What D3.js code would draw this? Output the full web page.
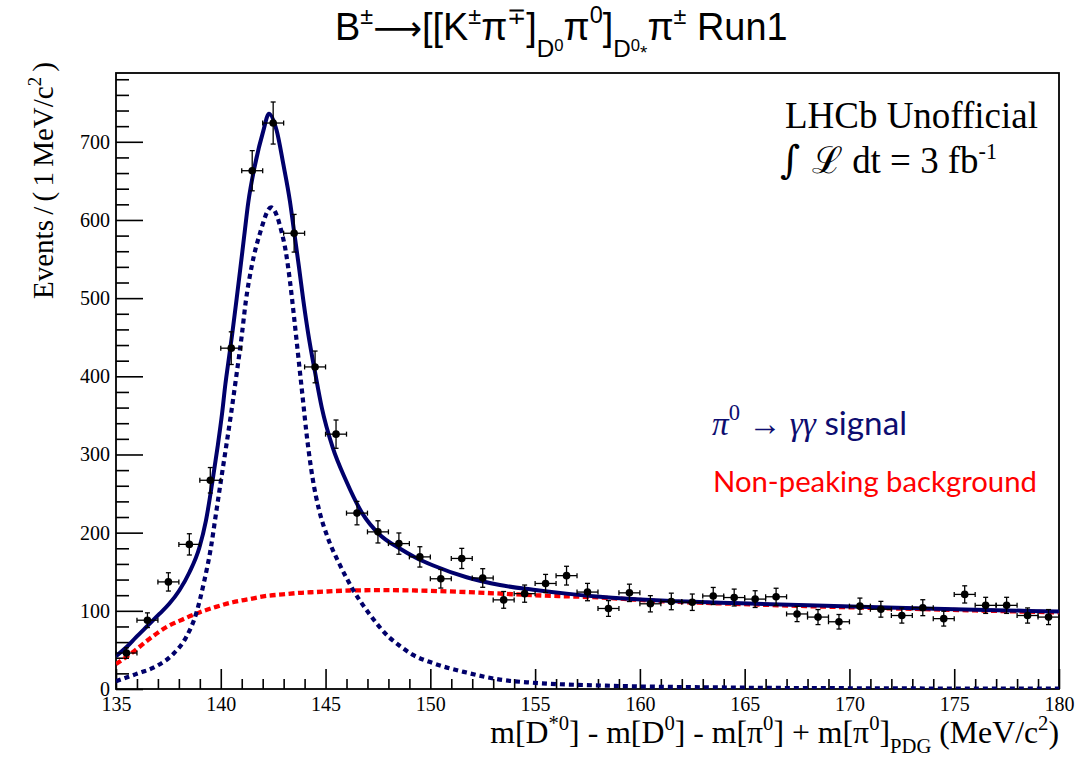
<!DOCTYPE html>
<html><head><meta charset="utf-8">
<script src="https://cdn.jsdelivr.net/npm/d3@7/dist/d3.min.js"></script>
<style>body{margin:0;background:#fff} svg{display:block}</style>
</head><body>
<svg id="c" width="1086" height="758"></svg>
<script>
// ---------- data ----------
const binCenters = [135.5,136.5,137.5,138.5,139.5,140.5,141.5,142.5,143.5,144.5,145.5,146.5,147.5,148.5,149.5,150.5,151.5,152.5,153.5,154.5,155.5,156.5,157.5,158.5,159.5,160.5,161.5,162.5,163.5,164.5,165.5,166.5,167.5,168.5,169.5,170.5,171.5,172.5,173.5,174.5,175.5,176.5,177.5,178.5,179.5];
const counts = [46,88,137,185,267,436,663,724,583,412,326,225,201,186,169,141,167,142,114,122,135,145,124,103,123,109,112,111,119,117,115,118,96,92,86,106,102,94,104,90,121,107,107,94,92];
const errors = [6.8,9.4,11.7,13.6,16.3,20.9,25.7,26.9,24.1,20.3,18.1,15.0,14.2,13.6,13.0,11.9,12.9,11.9,10.7,11.0,11.6,12.0,11.1,10.1,11.1,10.4,10.6,10.5,10.9,10.8,10.7,10.9,9.8,9.6,9.3,10.3,10.1,9.7,10.2,9.5,11.0,10.3,10.3,9.7,9.6];
const binHalfWidth = 0.5;

// total fit (solid), signal (dashed navy), background (dashed red): [x, y]
const fitCurve = [[135.0,42],[135.48,53],[135.95,66],[136.51,81],[137.07,96],[137.54,109],[138.02,126],[138.5,149],[138.98,181],[139.29,215],[139.61,267],[139.85,310],[140.06,352],[140.22,390],[140.33,412],[140.55,455],[140.76,500],[140.92,535],[141.12,580],[141.31,622],[141.63,670],[142.03,714],[142.3,736],[142.67,714],[142.98,672],[143.3,624],[143.51,583],[143.73,540],[143.94,497],[144.17,455],[144.5,405],[144.82,360],[145.34,309],[145.97,267],[146.77,224],[147.56,198],[148.52,180],[149.31,168],[150.14,158],[151.73,143],[153.32,133],[154.91,127],[156.5,122],[158.09,118],[161.27,113],[164.45,110],[168.0,107],[172.25,104],[176.0,101.5],[180.0,99]];
const sigCurve = [[135.0,10],[135.95,19],[136.91,29],[137.7,44],[138.34,66],[138.82,96],[139.21,138],[139.53,181],[139.77,224],[140.01,267],[140.25,309],[140.49,352],[140.73,398],[141.0,452],[141.2,497],[141.47,540],[141.87,583],[142.4,616],[142.9,585],[143.1,560],[143.3,522],[143.5,475],[143.7,425],[143.9,375],[144.1,325],[144.38,270],[144.7,228],[145.1,194],[145.66,160],[146.29,128],[147.09,96],[148.04,66],[148.55,55],[149.15,44],[150.14,33],[151.73,21],[153.32,12],[154.9,8],[158.1,4.5],[164.5,1.8],[172,0.8],[180,0.4]];
const bkgCurve = [[135,32],[135.8,47],[136.59,64],[137.39,79],[138.18,89],[138.98,98],[139.77,105],[140.57,111],[141.36,115],[142.16,119],[142.95,121],[143.75,123],[144.54,124],[146.13,126],[147.72,126.5],[149.3,126],[151.73,124],[154.91,120],[158.09,117],[161.27,112],[164.45,109],[168,106],[172.25,103],[176,100.5],[180,98]];

const xDomain = [135, 180];
const yDomain = [0, 788];
const xMajorTicks = [135,140,145,150,155,160,165,170,175,180];
const yMajorTicks = [0,100,200,300,400,500,600,700];
const xMinorTicks = d3.range(136, 180, 1).filter(v => v % 5 !== 0);
const yMinorTicks = d3.range(20, 788, 20).filter(v => v % 100 !== 0);

// ---------- layout ----------
const svg = d3.select('#c');
const M = {l:116, r:1059, t:73, b:689};
const x = d3.scaleLinear().domain(xDomain).range([M.l, M.r]);
const y = d3.scaleLinear().domain(yDomain).range([M.b, M.t]);
const NAVY = '#00006b', RED = '#ff0000';
const SERIF = "'Liberation Serif','DejaVu Serif',serif";
const SANS = "'Liberation Sans',Arial,sans-serif";

svg.append('defs').append('clipPath').attr('id','clip')
  .append('rect').attr('x',M.l).attr('y',M.t).attr('width',M.r-M.l).attr('height',M.b-M.t);

// axes
function styleAxis(g){ g.select('.domain').remove(); g.selectAll('line').attr('stroke','#000').attr('stroke-width',1.6); g.attr('font-family',SERIF).attr('font-size',20); g.selectAll('text').attr('fill','#000'); }
svg.append('g').attr('transform',`translate(0,${M.b})`)
  .call(d3.axisBottom(x).tickValues(xMajorTicks).tickSize(-20).tickPadding(8).tickFormat(d3.format('d'))).call(styleAxis);
svg.append('g').attr('transform',`translate(0,${M.b})`)
  .call(d3.axisBottom(x).tickValues(xMinorTicks).tickSize(-10).tickFormat('')).call(styleAxis);
svg.append('g').attr('transform',`translate(${M.l},0)`)
  .call(d3.axisLeft(y).tickValues(yMajorTicks).tickSize(-27).tickPadding(6).tickFormat(d3.format('d'))).call(styleAxis);
svg.append('g').attr('transform',`translate(${M.l},0)`)
  .call(d3.axisLeft(y).tickValues(yMinorTicks).tickSize(-13).tickFormat('')).call(styleAxis);

// frame
svg.append('rect').attr('x',M.l).attr('y',M.t).attr('width',M.r-M.l).attr('height',M.b-M.t)
  .attr('fill','none').attr('stroke','#000').attr('stroke-width',1.8);

// curves
const line = d3.line().x(d=>x(d[0])).y(d=>y(d[1])).curve(d3.curveMonotoneX);
const plot = svg.append('g').attr('clip-path','url(#clip)');
plot.append('path').attr('d',line(bkgCurve)).attr('fill','none').attr('stroke',RED).attr('stroke-width',4.3).attr('stroke-dasharray','6,3.5');
plot.append('path').attr('d',line(sigCurve)).attr('fill','none').attr('stroke',NAVY).attr('stroke-width',4.2).attr('stroke-dasharray','5,4');
plot.append('path').attr('d',line(fitCurve)).attr('fill','none').attr('stroke',NAVY).attr('stroke-width',4);

// data points with error bars
const pts = binCenters.map((c,i)=>({c, v:counts[i], e:errors[i]}));
const eg = svg.append('g').attr('stroke','#000').attr('stroke-width',1.3);
pts.forEach(p=>{
  const cx=x(p.c), cy=y(p.v), x0=x(p.c-binHalfWidth), x1=x(p.c+binHalfWidth), y0=y(p.v-p.e), y1=y(p.v+p.e);
  eg.append('line').attr('x1',x0).attr('x2',x1).attr('y1',cy).attr('y2',cy);
  eg.append('line').attr('x1',cx).attr('x2',cx).attr('y1',y0).attr('y2',y1);
  [x0,x1].forEach(xx=>eg.append('line').attr('x1',xx).attr('x2',xx).attr('y1',cy-2.5).attr('y2',cy+2.5));
  [y0,y1].forEach(yy=>eg.append('line').attr('x1',cx-2.5).attr('x2',cx+2.5).attr('y1',yy).attr('y2',yy));
});
svg.append('g').selectAll('circle').data(pts).join('circle')
  .attr('cx',d=>x(d.c)).attr('cy',d=>y(d.v)).attr('r',3.8).attr('fill','#000');

// ---------- rich text helper ----------
function rich(parent, parts, o){
  function build(F){
    const t = parent.append('text').attr('x',o.x).attr('y',o.y).attr('text-anchor',o.anchor||'start')
      .attr('font-family',o.family).attr('fill',o.fill||'#000');
    if(o.wordSpacing!=null) t.attr('word-spacing',o.wordSpacing);
    let cur = 0;
    parts.forEach(p=>{
      const target = F*(p.dy||0);
      const ts = t.append('tspan').text(p.t).attr('font-size',F*(p.s||1)).attr('dy',target-cur);
      cur = target;
      if(p.family) ts.attr('font-family',p.family);
      if(p.italic) ts.attr('font-style','italic');
      if(p.fill) ts.attr('fill',p.fill);
    });
    return t;
  }
  let t = build(o.F);
  if(o.width){
    const w = t.node().getComputedTextLength();
    t.remove();
    t = build(o.F*o.width/w);
  }
  return t;
}

// title
const ARROW = "'DejaVu Sans',sans-serif";
rich(svg, [
  {t:'B'},{t:'±',s:0.62,dy:-0.42},{t:'⟶',family:ARROW,s:0.9},{t:'[[K'},{t:'±',s:0.62,dy:-0.42},{t:'π'},{t:'∓',s:0.62,dy:-0.42},{t:']'},
  {t:'D',s:0.64,dy:0.45},{t:'0',s:0.44,dy:0.28},{t:'π'},{t:'0',s:0.62,dy:-0.45},{t:']'},
  {t:'D',s:0.64,dy:0.45},{t:'0',s:0.44,dy:0.28},{t:'*',s:0.5,dy:0.5},{t:'π'},{t:'±',s:0.62,dy:-0.42},{t:' Run1'}
], {x:335, y:40, F:33, family:SANS, width:453});

// y axis title
const yg = svg.append('g').attr('transform','translate(53,62) rotate(-90)');
rich(yg, [{t:'Events / ( 1 MeV/c'},{t:'2',s:0.65,dy:-0.4},{t:' )'}],
  {x:0, y:0, F:29, family:SERIF, anchor:'end', wordSpacing:-2});

// x axis title
rich(svg, [
  {t:'m[D'},{t:'*0',s:0.65,dy:-0.42},{t:'] - m[D'},{t:'0',s:0.65,dy:-0.42},{t:'] - m[π'},{t:'0',s:0.65,dy:-0.42},
  {t:'] + m[π'},{t:'0',s:0.65,dy:-0.42},{t:']'},{t:'PDG',s:0.65,dy:0.3},{t:' (MeV/c'},{t:'2',s:0.65,dy:-0.42},{t:')'}
], {x:1059, y:743, F:26, family:SERIF, anchor:'end', width:569});

// LHCb labels
rich(svg, [{t:'LHCb Unofficial'}], {x:785, y:128, F:34, family:SERIF, width:253});
rich(svg, [{t:'∫',family:"'DejaVu Serif',serif",s:1.05},{t:' ℒ',family:"'DejaVu Serif',serif"},{t:'  dt = 3 fb'},{t:'-1',s:0.6,dy:-0.38}],
  {x:780, y:173, F:31, family:SERIF, width:217});

// legend texts
rich(svg, [{t:'π',italic:true,family:SERIF},{t:'0',s:0.68,dy:-0.45,family:SERIF},{t:' → ',family:SERIF},
  {t:'γγ',italic:true,family:SERIF},{t:' signal'}],
  {x:712, y:435, F:27, family:"Lato,'Open Sans',sans-serif", fill:'#0d0d70', width:195});
rich(svg, [{t:'Non-peaking background'}], {x:713, y:492, F:27, family:"Lato,'Open Sans',sans-serif", fill:RED, width:324});
</script>
</body></html>
